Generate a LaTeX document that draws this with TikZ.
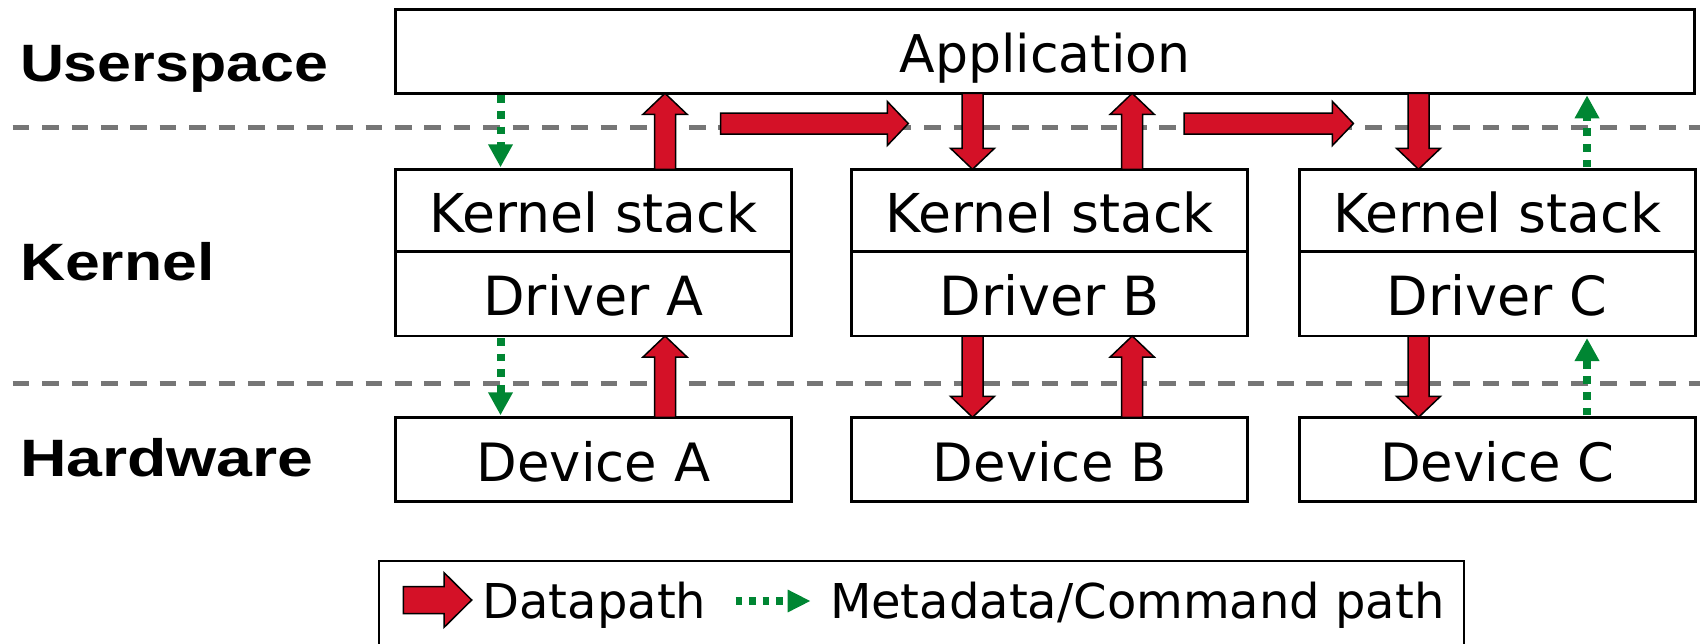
\documentclass[tikz,border=0pt]{standalone}
\usepackage{fontspec}
\usepackage{graphicx}
\setmainfont{DejaVu Sans}
\newfontfamily\labelfont[FakeStretch=1.17]{Liberation Sans}
\usetikzlibrary{calc,arrows.meta}

\definecolor{datared}{RGB}{212,17,39}
\definecolor{metagreen}{RGB}{0,134,51}
\definecolor{layergray}{RGB}{118,118,118}

% Block arrow: #1 half shaft width, #2 half head width, #3 head length
\tikzset{
  blockarrow/.style n args={3}{
    to path={
      let \p1=(\tikztostart), \p2=(\tikztotarget),
          \p3=($(\p2)!#3!(\p1)$) in
      ($(\p1)!#1!90:(\p2)$) -- ($(\p3)!#1!-90:(\p1)$) -- ($(\p3)!#2!-90:(\p1)$)
      -- (\p2) -- ($(\p3)!#2!90:(\p1)$) -- ($(\p3)!#1!90:(\p1)$)
      -- ($(\p1)!#1!-90:(\p2)$) -- cycle
    }
  }
}

\begin{document}
\begin{tikzpicture}[x=0.5pt,y=-0.5pt,
  every node/.style={inner sep=0pt, outer sep=0pt},
  box/.style={draw=black, line width=1.3pt, fill=white, minimum width=198pt,
    font=\fontsize{26}{30}\selectfont, text height=21.5pt, text depth=0pt},
  stacktext/.style={font=\fontsize{26.8}{30}\selectfont},
  drivertext/.style={font=\fontsize{27}{30}\selectfont},
  devicetext/.style={font=\fontsize{26.4}{30}\selectfont},
  layerlabel/.style={font=\labelfont\bfseries\fontsize{26.3}{30}\selectfont, anchor=base west},
  layerline/.style={draw=layergray, line width=2.5pt, dash pattern=on 8.35pt off 6.35pt},
  datapath/.style={blockarrow={5.25pt}{11pt}{10.5pt}, fill=datared, draw=black,
    line width=0.75pt, line join=miter},
  metapath/.style={draw=metagreen, line width=4pt, dash pattern=on 3.9pt off 3.9pt,
    -{Triangle[width=11.65pt,length=11.5pt]}, shorten <=1pt, shorten >=1pt},
  datalegend/.style={blockarrow={6.75pt}{13.7pt}{13.85pt}, fill=datared, draw=black,
    line width=0.75pt, line join=miter},
  metalegend/.style={draw=metagreen, line width=3.65pt, dash pattern=on 3.35pt off 3.35pt,
    -{Triangle[width=10.5pt,length=11.5pt]}},
  legtext/.style={font=\fontsize{24}{28}\selectfont, anchor=base west}
]
\useasboundingbox (0,0) rectangle (1700,643);
\clip (0,0) rectangle (1700,643);

% layer separators
\draw[layerline] (12.7,127) -- (1700,127);
\draw[layerline] (12.7,383) -- (1700,383);

% layer names
\node[layerlabel] (lu) at (20,81) {\scalebox{0.99}[1]{Userspace}};
\node[layerlabel] (lk) at (20,280) {\scalebox{1.016}[1]{Kernel}};
\node[layerlabel] (lh) at (20,476.7) {\scalebox{1.047}[1]{Hardware}};

% userspace
\node[box, minimum width=649.5pt, minimum height=42pt] (app) at (1045,51.3) {Application};

% kernel stacks and drivers
\node[box, stacktext, minimum height=41.2pt] (ka) at (593.5,210.5) {Kernel stack};
\node[box, drivertext, minimum height=42.15pt] (da) at (593.5,293.85) {Driver A};
\node[box, stacktext, minimum height=41.2pt] (kb) at (1049.7,210.5) {Kernel stack};
\node[box, drivertext, minimum height=42.15pt] (db) at (1049.7,293.85) {Driver B};
\node[box, stacktext, minimum height=41.2pt] (kc) at (1497.2,210.5) {Kernel stack};
\node[box, drivertext, minimum height=42.15pt] (dc) at (1497.2,293.85) {Driver C};

% devices
\node[box, devicetext, minimum height=42.2pt] (va) at (593.5,459.5) {Device A};
\node[box, devicetext, minimum height=42.2pt] (vb) at (1049.7,459.5) {Device B};
\node[box, devicetext, minimum height=42.2pt] (vc) at (1497.2,459.5) {Device C};

% data path: userspace <-> kernel
\draw[datapath] (665,0 |- ka.north) to (665,0 |- app.south);
\coordinate (h1s) at (720.6,123.5);
\coordinate (h1t) at (908.3,123.5);
\draw[datapath] (h1s) to (h1t);
\draw[datapath] (972.5,0 |- app.south) to (972.5,0 |- kb.north);
\draw[datapath] (1132.2,0 |- kb.north) to (1132.2,0 |- app.south);
\coordinate (h2s) at (1184,123.5);
\coordinate (h2t) at (1353.4,123.5);
\draw[datapath] (h2s) to (h2t);
\draw[datapath] (1418.5,0 |- app.south) to (1418.5,0 |- kc.north);

% data path: kernel <-> hardware
\draw[datapath] (665,0 |- va.north) to (665,0 |- da.south);
\draw[datapath] (972.5,0 |- db.south) to (972.5,0 |- vb.north);
\draw[datapath] (1132.2,0 |- vb.north) to (1132.2,0 |- db.south);
\draw[datapath] (1418.5,0 |- dc.south) to (1418.5,0 |- vc.north);

% metadata / command path
\draw[metapath] (500.5,0 |- app.south) -- (500.5,0 |- ka.north);
\draw[metapath] (500.5,0 |- da.south) -- (500.5,0 |- va.north);
\draw[metapath] (1587,0 |- kc.north) -- (1587,0 |- app.south);
\draw[metapath] (1587,0 |- vc.north) -- (1587,0 |- dc.south);

% legend
\node[draw=black, line width=1pt, minimum width=542.5pt, minimum height=59.5pt] (legend) at (921.5,620.5) {};
\coordinate (lds) at (403.3,600);
\coordinate (ldt) at (471.7,600);
\draw[datalegend] (lds) to (ldt);
\node[legtext] (ldtext) at (482.6,618.3) {Datapath};
\coordinate (lms) at (735.7,601);
\coordinate (lmt) at (810.7,601);
\draw[metalegend] (lms) -- (lmt);
\node[legtext] (lmtext) at (830,618.3) {Metadata/Command path};
\end{tikzpicture}
\end{document}
